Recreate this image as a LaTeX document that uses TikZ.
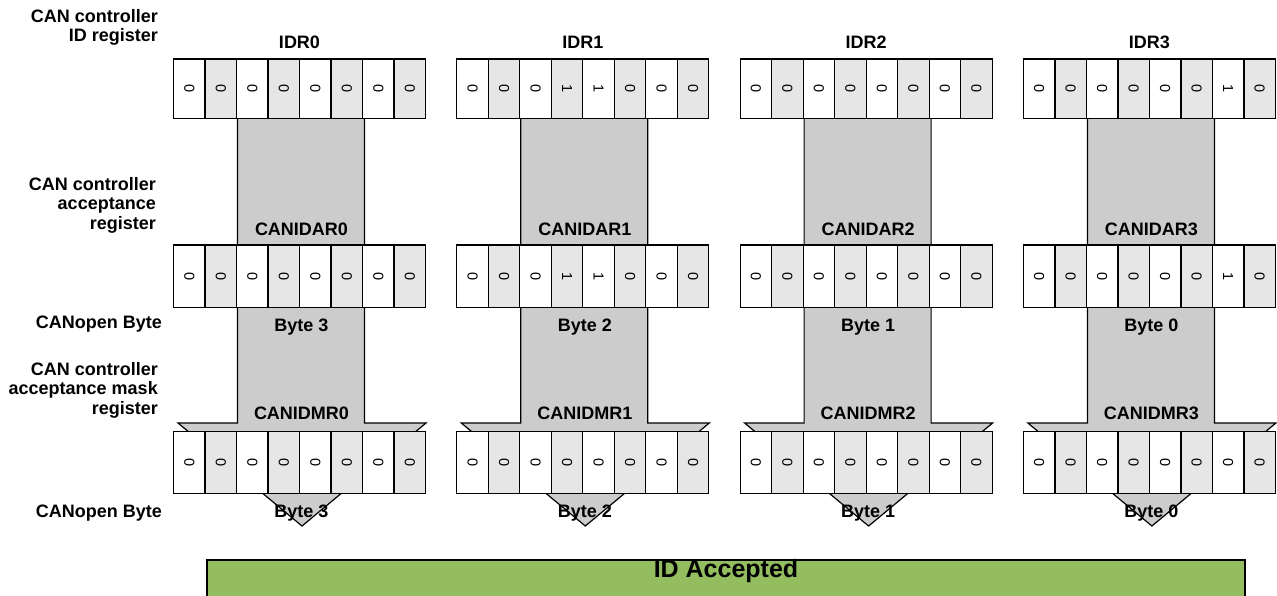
\documentclass[tikz,border=0pt]{standalone}
\usepackage{fontspec}
\setmainfont{Liberation Sans}
\definecolor{cellgray}{RGB}{230,230,230}
\definecolor{shaftgray}{RGB}{204,204,204}
\definecolor{accgreen}{RGB}{147,189,95}
\tikzset{
  cellw/.style={draw=black, fill=white, line width=1.2pt, rectangle, minimum width=31.5pt, inner sep=0pt, outer sep=0pt},
  cellg/.style={cellw, fill=cellgray},
  digit/.style={rotate=-90, inner sep=0pt, font=\fontsize{14.5}{14.5}\selectfont},
  lbl/.style={font=\fontsize{18}{19.5}\selectfont\bfseries, inner sep=0pt},
  sidelbl/.style={lbl, align=right, anchor=east},
  shaftst/.style={draw=black, fill=shaftgray, line width=1.2pt, line join=miter},
  accbox/.style={draw=black, fill=accgreen, line width=1.5pt}
}
\newcommand\regrow[5]{%
  \foreach \b [count=\i from 0] in #5 {
    \pgfmathsetmacro\cx{#2+\i*31.5+15.75}
    \pgfmathtruncatemacro\pp{mod(\i,2)}
    \ifnum\pp=0 \def\st{cellw}\else\def\st{cellg}\fi
    \node[\st, minimum height=#4] (#1-\i) at (\cx, #3+#4/2) {};
    \node[digit] (#1-\i-d) at (#1-\i) {\b};
  }%
}
\begin{document}
\begin{tikzpicture}[x=1pt,y=-1pt]
\useasboundingbox (0,0) rectangle (1277,595);
% side labels
\node[sidelbl] (l1) at (158,27.5) {CAN controller\\ID register};
\node[sidelbl] (l2) at (156,205) {CAN controller\\acceptance\\register};
\node[sidelbl] (l3) at (162,324) {CANopen Byte};
\node[sidelbl] (l4) at (158,390) {CAN controller\\acceptance mask\\register};
\node[sidelbl] (l5) at (162,513) {CANopen Byte};
% columns
\foreach \k/\byte/\bA in {0/3/{0,0,0,0,0,0,0,0},
                          1/2/{0,0,0,1,1,0,0,0},
                          2/1/{0,0,0,0,0,0,0,0},
                          3/0/{0,0,0,0,0,0,1,0}} {
  \pgfmathsetmacro\col{173.5+283.3*\k}
  \filldraw[shaftst] (\col+64,118) -- (\col+64,423) -- (\col+4.5,423) -- (\col+128.5,526)
      -- (\col+252.5,423) -- (\col+191,423) -- (\col+191,118) -- cycle;
  \regrow{idr\k}{\col}{59}{59.5}{\bA}
  \regrow{acc\k}{\col}{245}{62.5}{\bA}
  \regrow{msk\k}{\col}{431.5}{62}{{0,0,0,0,0,0,0,0}}
  \node[lbl] (idr\k-t) at (\col+126,42) {IDR\k};
  \node[lbl] (acc\k-t) at (\col+128,229) {CANIDAR\k};
  \node[lbl] (byA\k) at (\col+128,327) {Byte \byte};
  \node[lbl] (msk\k-t) at (\col+128,413) {CANIDMR\k};
  \node[lbl] (byB\k) at (\col+128,513) {Byte \byte};
}
\draw[accbox] (207,560) rectangle (1245,600);
\node[lbl, font=\fontsize{25}{25}\selectfont\bfseries] (acc) at (726,571) {ID Accepted};
\end{tikzpicture}
\end{document}
